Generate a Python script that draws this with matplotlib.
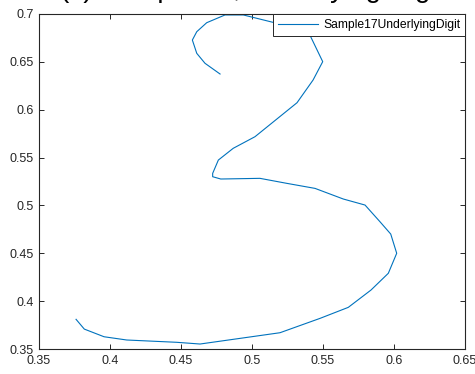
import matplotlib
matplotlib.use("Agg")
import matplotlib.pyplot as plt
from matplotlib.ticker import FuncFormatter, MultipleLocator

plt.rcParams["font.family"] = ["Liberation Sans", "DejaVu Sans"]

# Pen trajectory of the digit (x, y), in drawing order
stroke_x = [0.4775, 0.4669, 0.4611, 0.4580, 0.4611, 0.4681, 0.4810, 0.4939,
            0.5394, 0.5498, 0.5430, 0.5317, 0.5021, 0.4868, 0.4763, 0.4723,
            0.4723, 0.4780, 0.5056, 0.5244, 0.5444, 0.5643, 0.5796, 0.5901,
            0.5977, 0.6019, 0.5960, 0.5838, 0.5678, 0.5479, 0.5197, 0.4634,
            0.4470, 0.4118, 0.3958, 0.3819, 0.3761]
stroke_y = [0.6373, 0.6485, 0.6589, 0.6728, 0.6815, 0.6909, 0.6990, 0.6990,
            0.6822, 0.6502, 0.6310, 0.6073, 0.5718, 0.5597, 0.5474, 0.5335,
            0.5300, 0.5276, 0.5283, 0.5231, 0.5178, 0.5067, 0.5004, 0.4830,
            0.4701, 0.4500, 0.4291, 0.4116, 0.3935, 0.3820, 0.3670, 0.3552,
            0.3570, 0.3594, 0.3628, 0.3708, 0.3810]

series_label = "Sample17UnderlyingDigit"
title_text = "(c) Sample 17, Underlying Digit"
x_limits = (0.35, 0.65)
y_limits = (0.35, 0.70)

axis_color = "#262626"
line_color = "#0072BD"

fig = plt.figure(figsize=(4.75, 3.74), dpi=100)
ax = fig.add_axes([39 / 475, 1 - 349 / 374, (465 - 39) / 475, (349 - 14) / 374])

ax.plot(stroke_x, stroke_y, color=line_color, linewidth=0.8, label=series_label)

ax.set_xlim(*x_limits)
ax.set_ylim(*y_limits)
ax.xaxis.set_major_locator(MultipleLocator(0.05))
ax.yaxis.set_major_locator(MultipleLocator(0.05))
fmt = FuncFormatter(lambda v, p: "%g" % round(v, 4))
ax.xaxis.set_major_formatter(fmt)
ax.yaxis.set_major_formatter(fmt)

ax.tick_params(direction="in", length=3.5, width=0.7, colors=axis_color,
               labelsize=9, top=True, right=True, pad=4)
for side in ax.spines.values():
    side.set_color(axis_color)
    side.set_linewidth(0.8)

leg = ax.legend(loc="upper right", fontsize=8.7, borderaxespad=0,
                borderpad=0.4, handlelength=3.3, handletextpad=0.45,
                fancybox=False, framealpha=1, edgecolor=axis_color)
leg.get_frame().set_linewidth(0.7)

# Figure title, sitting at the very top edge of the canvas
fig.text((39 + 465) / 2 / 475, 1 + 3 / 374, title_text, ha="center",
         va="baseline", fontsize=20, color="#000000")

fig.savefig("out.png", dpi=100)
